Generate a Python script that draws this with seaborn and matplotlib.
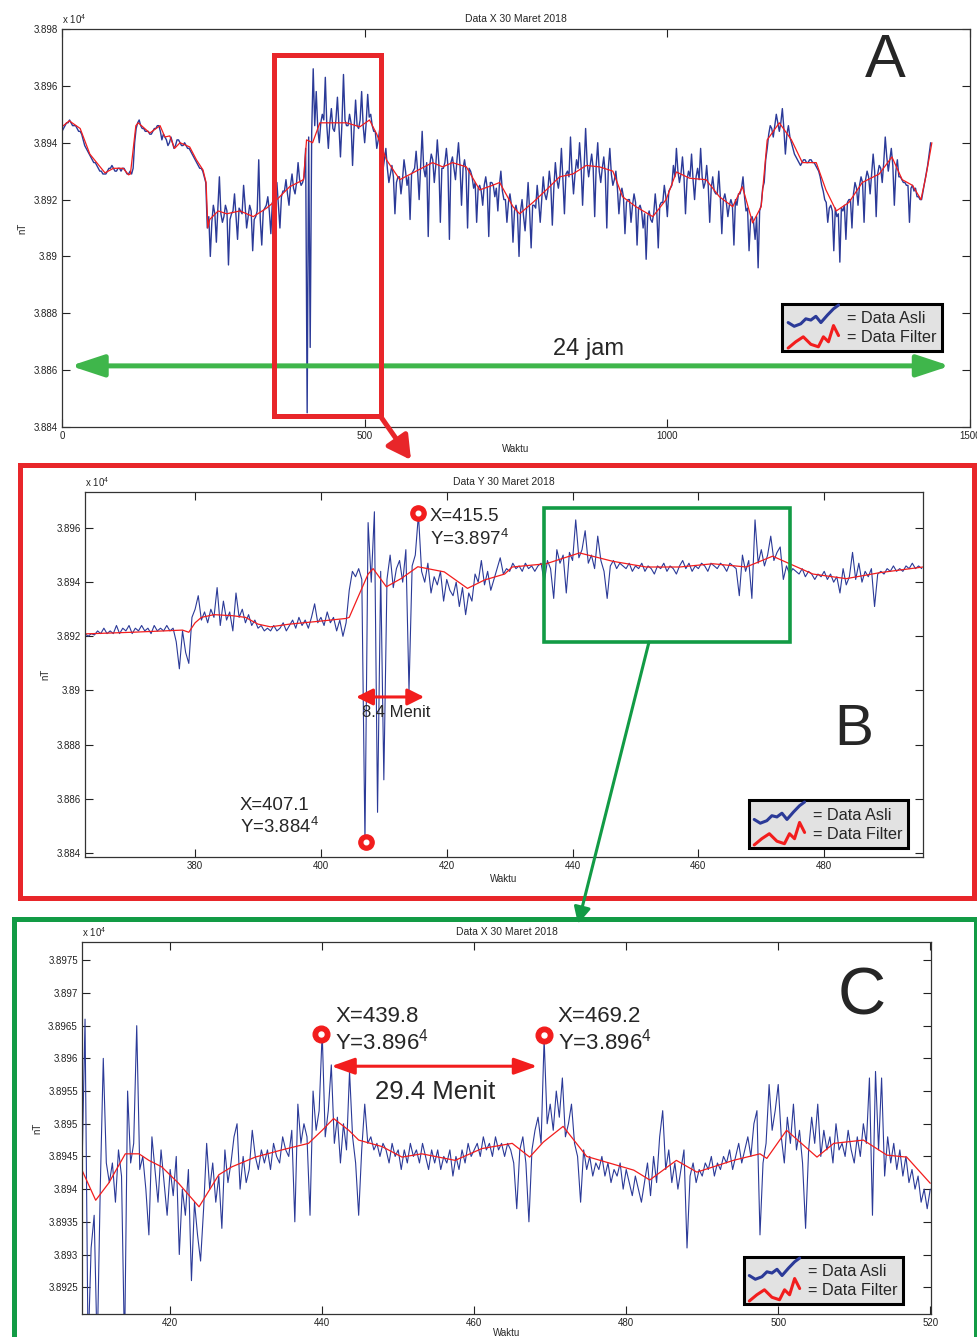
import numpy as np
import matplotlib
matplotlib.use('Agg')
import matplotlib.pyplot as plt
import seaborn as sns
from matplotlib.lines import Line2D
from matplotlib.legend_handler import HandlerBase
from matplotlib.patches import Rectangle, FancyArrowPatch
from matplotlib.ticker import FuncFormatter

# ---- panel A : satu hari penuh, sampel tiap 2.5 menit ----
a_start, a_step = 0, 2.5
a_asli = [
    38944, 38945, 38946, 38947, 38947, 38948, 38947, 38946, 38946, 38946, 38945, 38944, 38944, 38943, 38941, 38939, 38938, 38937, 38936, 38935,
    38934, 38933, 38933, 38932, 38931, 38930, 38930, 38929, 38929, 38929, 38930, 38931, 38931, 38932, 38931, 38930, 38930, 38931, 38931, 38930,
    38931, 38931, 38930, 38929, 38929, 38930, 38929, 38931, 38940, 38945, 38947, 38948, 38946, 38945, 38945, 38944, 38944, 38944, 38943, 38943,
    38944, 38945, 38945, 38946, 38946, 38944, 38941, 38943, 38942, 38941, 38939, 38940, 38942, 38940, 38938, 38939, 38941, 38941, 38940, 38939,
    38939, 38940, 38939, 38938, 38938, 38937, 38936, 38935, 38934, 38933, 38932, 38931, 38931, 38930, 38928, 38926,
    38910, 38914, 38900, 38912, 38918, 38915, 38905, 38917, 38928, 38915, 38912, 38914, 38918, 38916, 38897, 38913, 38915, 38916, 38922, 38914,
    38906, 38917, 38916, 38915, 38925, 38918, 38910, 38914, 38918, 38916, 38902, 38913, 38914, 38916, 38934, 38913, 38904, 38916, 38917, 38918,
    38921, 38916, 38908, 38919, 38920, 38921, 38926, 38918, 38910, 38921, 38923, 38923, 38927, 38922, 38918, 38925, 38929, 38924, 38922, 38926,
    38933, 38927, 38925, 38926,
    38928, 38938, 38845, 38942, 38868, 38944, 38966, 38946, 38958, 38945, 38940, 38947, 38950, 38948, 38963, 38946, 38938, 38947, 38952, 38945,
    38944, 38948, 38956, 38946, 38935, 38947, 38964, 38948, 38946, 38946, 38950, 38947, 38932, 38945, 38955, 38946, 38945, 38948, 38958, 38946,
    38940, 38947, 38957, 38949, 38950, 38946, 38944, 38944, 38938, 38941, 38945, 38937,
    38930, 38934, 38938, 38931, 38926, 38929, 38932, 38928, 38915, 38926, 38928, 38928, 38922, 38927, 38934, 38930, 38925, 38928, 38913, 38929,
    38930, 38931, 38937, 38930, 38920, 38932, 38944, 38931, 38928, 38933, 38907, 38932, 38936, 38934, 38926, 38932, 38941, 38933, 38912, 38931,
    38931, 38933, 38938, 38932, 38906, 38933, 38935, 38931, 38927, 38934, 38940, 38932, 38918, 38931, 38934, 38930, 38910, 38931, 38930, 38928,
    38924, 38926, 38912, 38924, 38925, 38923, 38918, 38925, 38928, 38924, 38907, 38926, 38926, 38925, 38921, 38924,
    38916, 38925, 38930, 38923, 38920, 38920, 38912, 38919, 38922, 38918, 38905, 38916, 38918, 38915, 38900, 38916, 38920, 38914, 38909, 38917,
    38926, 38916, 38903, 38918, 38918, 38917, 38925, 38919, 38912, 38920, 38928, 38922, 38920, 38923, 38930, 38925, 38911, 38924, 38933, 38927,
    38924, 38928, 38938, 38927, 38915, 38929, 38930, 38928, 38942, 38930, 38922, 38929, 38934, 38931, 38940, 38932, 38918, 38931, 38945, 38933,
    38928, 38932, 38936, 38931, 38914, 38932, 38940, 38930, 38926, 38931, 38935, 38929, 38910, 38931, 38938, 38929, 38925, 38927, 38930, 38924,
    38915, 38922, 38924, 38921, 38908, 38919, 38920, 38920, 38912, 38918, 38922, 38919, 38904, 38917, 38918, 38916, 38910, 38915, 38899, 38914,
    38916, 38913, 38912, 38915, 38922, 38916, 38903, 38918, 38919, 38919, 38925, 38921, 38914, 38923, 38924, 38925, 38932, 38928, 38938, 38930,
    38926, 38929, 38935, 38928, 38915, 38927, 38930, 38928, 38936, 38927, 38920, 38928, 38931, 38927, 38938, 38928, 38924, 38926, 38932, 38925,
    38912, 38924, 38928, 38923, 38922, 38922, 38930, 38921, 38908, 38920, 38922, 38919, 38914, 38918, 38920, 38918, 38904, 38920, 38918, 38922,
    38922, 38924, 38928, 38921, 38916, 38917, 38902, 38913, 38914, 38912, 38906, 38914, 38896, 38916, 38918, 38924, 38926, 38934, 38938, 38943,
    38946, 38945, 38942, 38946, 38950, 38947, 38944, 38947, 38952, 38945, 38936, 38943, 38946, 38942, 38940, 38938, 38936, 38935, 38934, 38933,
    38932, 38933, 38934, 38934, 38933, 38933, 38934, 38934, 38933, 38933, 38932, 38931, 38930, 38928, 38925, 38923, 38920, 38919, 38912, 38917,
    38918, 38916, 38902, 38917, 38914, 38915, 38898, 38917, 38916, 38918, 38906, 38919, 38920, 38920, 38910, 38922, 38926, 38924, 38918, 38925,
    38928, 38926, 38912, 38927, 38930, 38928, 38922, 38929, 38936, 38930, 38914, 38929, 38932, 38931, 38926, 38933, 38942, 38935, 38930, 38934,
    38938, 38932, 38918, 38930, 38934, 38928, 38928, 38927, 38926, 38926, 38925, 38925, 38912, 38924, 38925, 38923, 38924, 38921, 38921, 38920,
    38920, 38923, 38926, 38929, 38932, 38936, 38940]
a_filter_t = [0, 12, 30, 46, 63, 71, 85, 101, 110, 113, 122, 126, 145, 162, 170,
              178, 186, 195, 211, 222, 233, 238, 241, 244, 258, 272, 294, 316,
              338, 355, 376, 399, 404, 414, 426, 447, 470, 492, 508, 520, 536,
              558, 585, 612, 629, 645, 668, 690, 711, 723, 745, 756, 778, 800,
              822, 844, 866, 888, 910, 926, 948, 976, 998, 1015, 1037, 1064,
              1086, 1108, 1124, 1141, 1155, 1165, 1185, 1205, 1223, 1246, 1262,
              1279, 1300, 1322, 1350, 1371, 1388, 1405, 1419, 1427, 1437]
a_filter = [38945.6, 38947.7, 38945, 38936, 38931.5, 38929.4, 38931, 38931,
            38928.7, 38929, 38946, 38947, 38943.4, 38946, 38942, 38942.4, 38938,
            38940, 38938.5, 38934, 38930.4, 38926, 38910, 38913, 38916, 38915,
            38916, 38914, 38917, 38920, 38924.5, 38927, 38941, 38940, 38947,
            38947, 38947, 38945.6, 38948, 38943, 38934, 38927, 38930, 38933,
            38931.5, 38933, 38931.5, 38923.4, 38925, 38926, 38917.5, 38915,
            38919, 38923.4, 38928, 38929, 38932, 38931.5, 38930, 38921, 38917.5,
            38914, 38920, 38929.7, 38927.5, 38927, 38921, 38917.5, 38924.5,
            38911.8, 38917.5, 38941, 38947, 38941, 38933, 38933, 38923.4, 38916,
            38919, 38926, 38929, 38935, 38927, 38925, 38920, 38928, 38940]

# ---- panel B : zoom menit 362.5 - 495.5, sampel tiap 0.5 menit ----
b_start, b_step = 362.5, 0.5
b_asli = [
    38921, 38920, 38921, 38920.5, 38922, 38921, 38923, 38921, 38922, 38921,
    38924, 38921, 38923, 38922, 38924, 38921, 38923, 38922, 38924, 38922,
    38923, 38921, 38924, 38922, 38923, 38922, 38924, 38922, 38923, 38918,
    38908, 38922, 38914, 38910, 38927, 38930, 38935, 38926, 38929, 38925,
    38930, 38927, 38938, 38924, 38933, 38926, 38929, 38922, 38936, 38927,
    38930, 38925, 38928, 38924, 38926, 38923, 38924, 38922, 38923, 38922,
    38924, 38922, 38923, 38925, 38922, 38924, 38926, 38923, 38927, 38924,
    38926, 38923, 38927, 38932, 38925, 38927, 38924, 38929, 38925, 38927,
    38922, 38926, 38920, 38925, 38937, 38944, 38942, 38945, 38941, 38844,
    38962, 38940, 38966, 38855, 38944, 38867, 38941, 38950, 38938, 38945,
    38948, 38940, 38952, 38900, 38946, 38950, 38965, 38944, 38940, 38947,
    38936, 38942, 38939, 38944, 38933, 38941, 38937, 38935, 38940, 38931,
    38938, 38928, 38936, 38933, 38943, 38940, 38948, 38939, 38944, 38937,
    38941, 38945, 38949, 38943, 38945, 38944, 38947, 38945, 38946, 38944,
    38947, 38945, 38946, 38944, 38946, 38947, 38940, 38948, 38945, 38934,
    38952, 38947, 38950, 38936, 38951, 38948, 38963, 38949, 38952, 38959,
    38947, 38950, 38945, 38957, 38948, 38944, 38934, 38946, 38948, 38945,
    38947, 38946, 38945, 38947, 38944, 38946, 38945, 38947, 38944, 38946,
    38945, 38943, 38946, 38945, 38947, 38944, 38946, 38945, 38943, 38946,
    38948, 38945, 38947, 38944, 38946, 38945, 38947, 38946, 38944, 38947,
    38946, 38945, 38947, 38946, 38944, 38947, 38946, 38945, 38935, 38950,
    38944, 38948, 38934, 38963, 38947, 38952, 38946, 38950, 38957, 38948,
    38951, 38953, 38941, 38946, 38943, 38945, 38944, 38943, 38945, 38942,
    38944, 38943, 38941, 38943, 38942, 38944, 38941, 38943, 38940, 38942,
    38936, 38945, 38939, 38942, 38951, 38941, 38947, 38940, 38944, 38942,
    38945, 38931, 38943, 38944, 38943, 38945, 38944, 38946, 38944, 38945,
    38944, 38946, 38945, 38947, 38945, 38946, 38945]
b_filter_t = [362.5, 370, 378, 379, 380, 381, 383, 386, 388, 390, 392, 395, 399,
              404, 404.5, 405.9, 407.5, 408.3, 410.4, 412.8, 415.4, 419.6, 423.3,
              426, 429.2, 430.4, 435.8, 441.1, 446.4, 451.7, 457, 462.3, 467.6,
              471.8, 474.5, 478.2, 483.5, 488.8, 495.7]
b_filter = [38920.9, 38921.5, 38922.3, 38921.5, 38925, 38927, 38928, 38927.6,
            38927, 38924.5, 38923.5, 38924.5, 38925.4, 38926.6, 38927, 38934.5,
            38943, 38945, 38938.3, 38941.4, 38945.7, 38943.8, 38937.7, 38940.8,
            38943, 38945.6, 38946.8, 38950.8, 38947.7, 38945.6, 38945.6, 38946.8,
            38945.6, 38949.6, 38946.8, 38943, 38941.3, 38943.5, 38945.6]
b_mark_t = [407.1, 415.5]
b_mark_v = [38844.1, 38965.5]

# ---- panel C : zoom menit 408.4 - 520, sampel tiap 0.4 menit ----
c_start, c_step = 408.4, 0.4
c_asli = [
    38943, 38966, 38915, 38931, 38936, 38915, 38940, 38960, 38944, 38941,
    38944, 38938, 38946, 38942, 38915, 38955, 38944, 38947, 38965, 38943,
    38945, 38940, 38933, 38948, 38943, 38938, 38946, 38941, 38936, 38943,
    38939, 38945, 38930, 38940, 38936, 38943, 38926, 38938, 38933, 38929,
    38937, 38947, 38940, 38944, 38938, 38942, 38934, 38946, 38941, 38944,
    38948, 38950, 38940, 38945, 38941, 38943, 38949, 38945, 38943, 38946,
    38944, 38946, 38943, 38947, 38945, 38944, 38948, 38946, 38945, 38949,
    38935, 38953, 38947, 38950, 38948, 38936, 38955, 38949, 38952, 38964,
    38948, 38952, 38959, 38947, 38951, 38944, 38950, 38946, 38958, 38948,
    38944, 38936, 38946, 38953, 38947, 38948, 38946, 38947, 38945, 38947,
    38946, 38944, 38947, 38945, 38946, 38943, 38946, 38944, 38947, 38945,
    38946, 38944, 38947, 38945, 38943, 38946, 38944, 38946, 38943, 38945,
    38944, 38946, 38942, 38945, 38943, 38946, 38944, 38947, 38945, 38946,
    38947, 38945, 38948, 38946, 38947, 38945, 38948, 38946, 38947, 38945,
    38947, 38946, 38944, 38937, 38946, 38948, 38944, 38935, 38946, 38949,
    38951, 38947, 38963, 38950, 38953, 38949, 38955, 38951, 38957, 38948,
    38950, 38953, 38947, 38945, 38938, 38946, 38943, 38945, 38942, 38944,
    38943, 38945, 38942, 38944, 38941, 38943, 38942, 38944, 38940, 38943,
    38941, 38939, 38942, 38940, 38938, 38941, 38944, 38939, 38945, 38941,
    38948, 38952, 38943, 38946, 38941, 38944, 38940, 38943, 38946, 38931,
    38942, 38944, 38941, 38943, 38942, 38944, 38943, 38945, 38942, 38944,
    38943, 38945, 38944, 38946, 38943, 38945, 38947, 38944, 38946, 38948,
    38945, 38950, 38952, 38933, 38944, 38947, 38956, 38949, 38952, 38956,
    38948, 38944, 38951, 38947, 38953, 38946, 38949, 38944, 38934, 38946,
    38951, 38947, 38953, 38945, 38949, 38946, 38948, 38944, 38950, 38946,
    38947, 38945, 38949, 38946, 38944, 38948, 38945, 38950, 38947, 38957,
    38936, 38958, 38946, 38957, 38942, 38948, 38944, 38947, 38943, 38946,
    38942, 38945, 38941, 38943, 38940, 38942, 38938, 38940, 38937, 38940]
c_filter_t = [408.4, 410.2, 411.9, 414.1, 415.9, 417.2, 418.9, 421.1, 423.8,
              426.4, 428.1, 431.2, 434.7, 438.2, 440, 441.5, 443.5, 444.8, 447.9,
              450.5, 453.1, 457.5, 461, 465, 467.3, 469.1, 471.7, 474.8, 481,
              483.1, 486.6, 489.3, 494.1, 497.6, 498.5, 501.1, 505.1, 507.3,
              511.2, 514.3, 516.9, 520]
c_filter = [38942.9, 38938.3, 38940.9, 38945.4, 38945.4, 38944.4, 38943.4,
            38940.9, 38937.3, 38942.2, 38943.4, 38944.9, 38946, 38947, 38949,
            38950.8, 38949, 38947.5, 38946.5, 38944.9, 38945.4, 38944.4, 38946.2,
            38947, 38944.9, 38947.2, 38949.6, 38945, 38942.9, 38941.4, 38944.4,
            38942.6, 38944.4, 38945.4, 38944.7, 38949, 38944.9, 38947, 38947.5,
            38945.2, 38944.9, 38940.9]
c_mark_t = [439.8, 469.2]
c_mark_v = [38963.8, 38963.5]

BLUE = '#2b3a98'
RED = '#f21d1d'
FRAME_RED = '#e8262a'
GREEN = '#129b45'
LIGHT_GREEN = '#3fb64b'

sns.set_style('ticks')
plt.rcParams['font.family'] = ['Liberation Sans', 'DejaVu Sans']
plt.rcParams['mathtext.fontset'] = 'custom'
plt.rcParams['mathtext.rm'] = 'Liberation Sans'


class Squiggle(HandlerBase):
    """legend glyph drawn as a little hand-drawn wave"""
    def __init__(self, px, py):
        super().__init__()
        self.px, self.py = px, py

    def create_artists(self, legend, orig_handle, xdescent, ydescent,
                       width, height, fontsize, trans):
        xs = [-xdescent + p * width for p in self.px]
        ys = [-ydescent - 0.25 * height + q * 1.5 * height for q in self.py]
        ln = Line2D(xs, ys, color=orig_handle.get_color(), lw=2.2,
                    solid_joinstyle='round', solid_capstyle='round')
        ln.set_transform(trans)
        return [ln]


def draw_series(ax, start, step, asli, filt_t, filt, lw=0.8):
    t = start + step * np.arange(len(asli))
    sns.lineplot(x=t, y=asli, ax=ax, color=BLUE, linewidth=lw,
                 estimator=None, sort=False)
    sns.lineplot(x=filt_t, y=filt, ax=ax, color=RED, linewidth=0.9,
                 estimator=None, sort=False)


def style_axes(ax, title, xlim, ylim, xticks, yticks, xlabelpad=2):
    ax.set_xlim(*xlim)
    ax.set_ylim(*ylim)
    ax.set_xticks(xticks)
    ax.set_yticks(yticks)
    ax.yaxis.set_major_formatter(FuncFormatter(lambda v, p: f'{v / 1e4:g}'))
    ax.tick_params(direction='in', length=6, width=0.8, top=True, right=True,
                   labelsize=7, pad=3, colors='#222222')
    for s in ax.spines.values():
        s.set_visible(True)
        s.set_color('#333333')
        s.set_linewidth(0.9)
    ax.set_title(title, fontsize=7.5, pad=5)
    ax.set_xlabel('Waktu', fontsize=7, labelpad=xlabelpad)
    ax.set_ylabel('nT', fontsize=7, labelpad=4)
    ax.text(0, 1.008, r'x 10$^4$', transform=ax.transAxes, fontsize=7,
            va='bottom', ha='left')


def add_legend(ax, anchor):
    hb = Line2D([], [], color=BLUE)
    hr = Line2D([], [], color=RED)
    leg = ax.legend(handles=[hb, hr], labels=['= Data Asli', '= Data Filter'],
                    handler_map={hb: Squiggle([0, 0.12, 0.25, 0.35, 0.45, 0.55, 0.65, 0.78, 0.9, 1.0],
                                              [0.3, 0.15, 0.25, 0.45, 0.4, 0.55, 0.3, 0.6, 0.85, 1.0]),
                                 hr: Squiggle([0, 0.15, 0.3, 0.45, 0.6, 0.7, 0.8, 0.9, 1.0],
                                              [0.05, 0.3, 0.5, 0.2, 0.1, 0.5, 0.3, 0.95, 0.55])},
                    loc='lower right', bbox_to_anchor=anchor, borderaxespad=0,
                    fontsize=11.7, frameon=True, fancybox=False,
                    edgecolor='black', facecolor='#e2e2e2', framealpha=1,
                    handlelength=3.1, handleheight=1.2, handletextpad=0.5,
                    labelspacing=0.15, borderpad=0.35)
    leg.get_frame().set_linewidth(2.2)


def ring(ax, ts, vs, size):
    ax.plot(ts, vs, 'o', ms=size, color=RED, zorder=5, clip_on=False)
    ax.plot(ts, vs, 'o', ms=size * 0.3, color='white', zorder=6, clip_on=False)


W, H = 978, 1337
fig = plt.figure(figsize=(W / 100, H / 100), dpi=100)


def fx(px):
    return px / W


def fy(py):
    return 1 - py / H


# ---------- A ----------
axA = fig.add_axes([fx(62), fy(427), fx(908), 398 / H])
draw_series(axA, a_start, a_step, a_asli, a_filter_t, a_filter, lw=1.0)
style_axes(axA, 'Data X 30 Maret 2018', (0, 1500), (38840, 38980),
           [0, 500, 1000, 1500], list(range(38840, 38981, 20)))
axA.add_patch(Rectangle((350, 38843.8), 176.5, 127.1, fill=False,
                        ec=FRAME_RED, lw=3.6, clip_on=False, zorder=4))
axA.annotate('', xy=(14, 38861.5), xytext=(1467, 38861.5),
             arrowprops=dict(arrowstyle='<|-|>,head_length=1.0,head_width=0.33',
                             mutation_scale=20, color=LIGHT_GREEN, lw=3.6,
                             shrinkA=0, shrinkB=0))
axA.text(869, 38867.5, '24 jam', fontsize=17, ha='center', va='center')
axA.text(1360, 38968.4, 'A', fontsize=44, ha='center', va='center')
add_legend(axA, (0.969, 0.191))

# ---------- B ----------
axB = fig.add_axes([fx(85), fy(857), fx(838), 365 / H])
draw_series(axB, b_start, b_step, b_asli, b_filter_t, b_filter)
style_axes(axB, 'Data Y 30 Maret 2018', (362.5, 495.7), (38838.5, 38973.3),
           list(range(380, 481, 20)), list(range(38840, 38961, 20)))
axB.add_patch(Rectangle((435.4, 38918.0), 39.2, 49.5, fill=False,
                        ec=GREEN, lw=2.6, zorder=4))
ring(axB, b_mark_t, b_mark_v, 11)
axB.text(417.3, 38959.8, 'X=415.5\nY=3.897$^4$', fontsize=13.4,
         ha='left', va='center', linespacing=1.15)
axB.text(387.1, 38853.2, 'X=407.1\nY=3.884$^4$', fontsize=13.4,
         ha='left', va='center', linespacing=1.15)
axB.annotate('', xy=(405.6, 38897.6), xytext=(416.4, 38897.6),
             arrowprops=dict(arrowstyle='<|-|>,head_length=1.0,head_width=0.5',
                             mutation_scale=10, color=RED, lw=2.2,
                             shrinkA=0, shrinkB=0))
axB.text(412, 38891.7, '8.4 Menit', fontsize=12, ha='center', va='center')
axB.text(484.7, 38885.5, 'B', fontsize=42, ha='center', va='center')
add_legend(axB, (0.982, 0.025))

# ---------- C ----------
axC = fig.add_axes([fx(82), fy(1314), fx(849), 372 / H])
draw_series(axC, c_start, c_step, c_asli, c_filter_t, c_filter)
style_axes(axC, 'Data X 30 Maret 2018', (408.4, 520.1), (38920.9, 38977.8),
           list(range(420, 521, 20)), list(range(38925, 38976, 5)), xlabelpad=0)
ring(axC, c_mark_t, c_mark_v, 12)
axC.text(441.7, 38964.3, 'X=439.8\nY=3.896$^4$', fontsize=16,
         ha='left', va='center', linespacing=1.1)
axC.text(471.0, 38964.3, 'X=469.2\nY=3.896$^4$', fontsize=16,
         ha='left', va='center', linespacing=1.1)
axC.annotate('', xy=(441.2, 38958.8), xytext=(468.3, 38958.8),
             arrowprops=dict(arrowstyle='<|-|>,head_length=1.4,head_width=0.5',
                             mutation_scale=10, color=RED, lw=2.2,
                             shrinkA=0, shrinkB=0))
axC.text(454.8, 38954.8, '29.4 Menit', fontsize=18.5, ha='center', va='center')
axC.text(511, 38969.3, 'C', fontsize=48, ha='center', va='center')
add_legend(axC, (0.967, 0.027))

# ---------- bingkai dan panah penghubung ----------
fig.add_artist(Rectangle((fx(20), fy(898)), fx(954), 433 / H, fill=False,
                         ec=FRAME_RED, lw=3.6, transform=fig.transFigure))
fig.add_artist(Rectangle((fx(14), fy(1345)), fx(962), 426 / H, fill=False,
                         ec=GREEN, lw=3.6, transform=fig.transFigure))
fig.add_artist(FancyArrowPatch((fx(381), fy(417)), (fx(411), fy(460)),
                               transform=fig.transFigure,
                               arrowstyle='-|>,head_length=1.0,head_width=0.55',
                               mutation_scale=14, color=FRAME_RED, lw=3.6,
                               shrinkA=0, shrinkB=0))
fig.add_artist(FancyArrowPatch((fx(649), fy(642)), (fx(578), fy(924)),
                               transform=fig.transFigure,
                               arrowstyle='-|>,head_length=1.0,head_width=0.5',
                               mutation_scale=10, color=GREEN, lw=2.2,
                               shrinkA=0, shrinkB=0))

fig.savefig('out.png', dpi=100)
